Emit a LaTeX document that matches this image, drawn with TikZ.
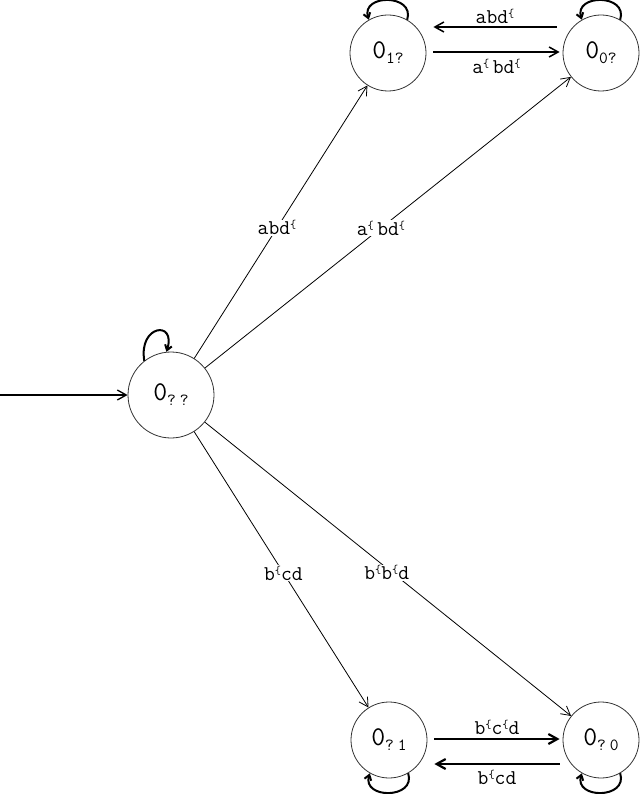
\documentclass[tikz,border=0pt]{standalone}
\usetikzlibrary{arrows.meta,calc}
\newcommand{\prsym}{\raisebox{6pt}{\fontsize{12}{12}\selectfont\{}}
\newcommand{\stname}[1]{{\fontsize{27}{27}\selectfont 0}\raisebox{-5pt}{\fontsize{17}{17}\selectfont #1}}
\tikzset{
  st/.style={circle,draw=black!80,line width=0.8pt,inner sep=0pt,font=\ttfamily},
  big/.style={st,minimum size=86pt},
  small/.style={st,minimum size=76pt},
  edge/.style={line width=0.8pt,-{Straight Barb[length=9pt,width=10pt]}},
  lbl/.style={fill=white,inner sep=1pt,font=\ttfamily\fontsize{21}{21}\selectfont},
  loopline/.style={line width=2pt,-{Straight Barb[length=5pt,width=7pt]}},
  midlbl/.style={inner sep=1pt,font=\ttfamily\fontsize{21}{21}\selectfont}
}
\begin{document}
\begin{tikzpicture}[x=1pt,y=-1pt]
\useasboundingbox (0,0) rectangle (640,794);
\node[big] (c) at (171,395) {\stname{?\hspace{4pt}?}};
\node[small] (a) at (388,53) {\stname{1?}};
\node[small] (b) at (601,53) {\stname{0?}};
\node[small] (d) at (389,740) {\stname{?\hspace{4pt}1}};
\node[small] (e) at (601,740) {\stname{?\hspace{4pt}0}};
\coordinate (init) at (0,395);
\draw[line width=1.3pt,-{Straight Barb[length=9pt,width=10pt]}] (init) -- (c);
% loops
\draw[loopline] (c.128) .. controls +(-6,-36) and +(10,-32) .. (c.96);
\draw[loopline] (a.60) .. controls +(8,-26) and +(-8,-26) .. (a.120);
\draw[loopline] (b.60) .. controls +(8,-26) and +(-8,-26) .. (b.120);
\draw[loopline] (d.-60) .. controls +(8,26) and +(-8,26) .. (d.-120);
\draw[loopline] (e.-60) .. controls +(8,26) and +(-8,26) .. (e.-120);
% diagonal edges
\draw[edge] (c) -- node[lbl,pos=0.478] {abd\prsym} (a);
\draw[edge] (c) -- node[lbl,pos=0.481] {a\prsym\,bd\prsym} (b);
\draw[edge] (c) -- node[lbl,pos=0.512] {b\prsym cd} (d);
\draw[edge] (c) -- node[lbl,pos=0.513,xshift=-6pt] {b\prsym b\prsym d} (e);
% top horizontal
\draw[line width=1.5pt,-{Straight Barb[length=9pt,width=10pt]}] ($(b.west)+(-6,-26)$) -- node[midlbl,above=2pt] {abd\prsym} ($(a.east)+(7,-26)$);
\draw[line width=1.5pt,-{Straight Barb[length=9pt,width=10pt]}] ($(a.east)+(7,-1)$) -- node[midlbl,below=5pt] {a\prsym\,bd\prsym} ($(b.west)+(-3,-1)$);
% bottom horizontal
\draw[line width=2.2pt,-{Straight Barb[length=9pt,width=10pt]}] ($(d.east)+(7,-1)$) -- node[midlbl,above=2pt] {b\prsym c\prsym d} ($(e.west)+(-3,-1)$);
\draw[line width=2.2pt,-{Straight Barb[length=9pt,width=10pt]}] ($(e.west)+(-3,24)$) -- node[midlbl,below=4pt] {b\prsym cd} ($(d.east)+(7,24)$);
\end{tikzpicture}
\end{document}
